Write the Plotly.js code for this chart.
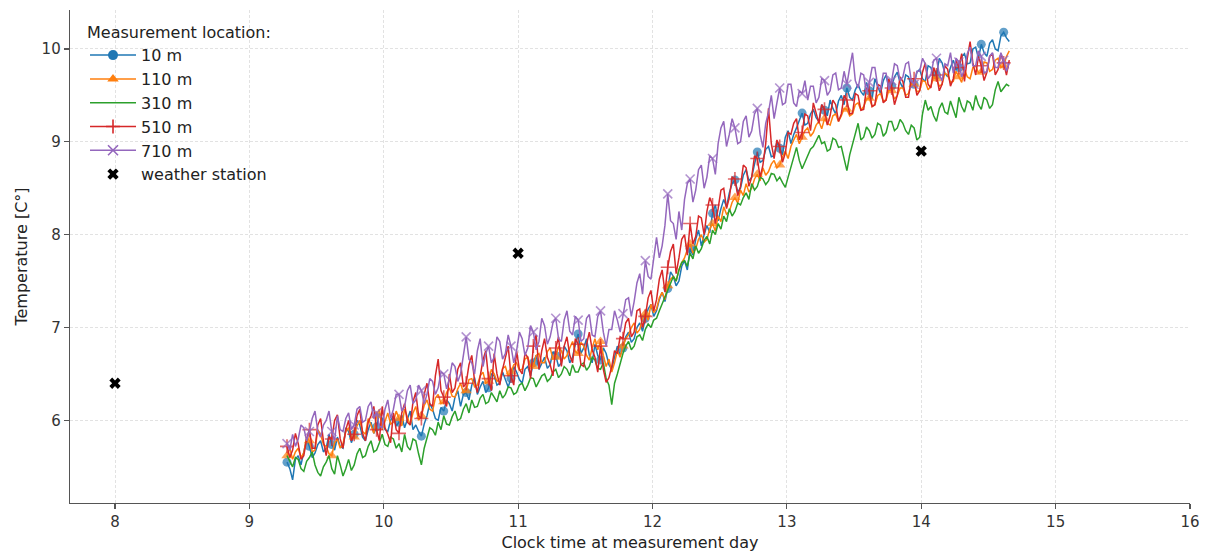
<!DOCTYPE html>
<html>
<head>
<meta charset="utf-8">
<script src="https://cdn.plot.ly/plotly-3.0.1.min.js"></script>
<style>
html,body{margin:0;padding:0;background:#fff;}
#chart{width:1209px;height:555px;}
</style>
</head>
<body>
<div id="chart"></div>
<script>
// Sampling grid of the sensor series (clock time, hours)
const timeStart = 9.28;
const timeStepH = 1 / 48;

// 10 m
const loc10 = [
  5.55,5.48, 5.36,5.58, 5.62,5.52, 5.66,5.80, 5.72,5.60, 5.65,5.74, 5.78,5.66, 5.70,5.85, 5.74,5.68, 5.82,5.72,
  5.70,5.92, 5.88,5.76, 5.85,6.00, 5.95,5.82, 5.78,5.90, 5.98,5.86, 5.93,6.08, 6.02,5.90, 5.88,6.00, 6.05,5.94,
  5.98,6.06, 5.92,6.02, 6.10,5.90, 5.95,5.88, 5.83,5.96, 6.05,6.18, 6.12,6.02, 6.00,6.14, 6.10,6.22, 6.18,6.10,
  6.25,6.32, 6.15,6.28, 6.30,6.22, 6.38,6.46, 6.28,6.36, 6.42,6.30, 6.35,6.50, 6.48,6.38, 6.40,6.52, 6.45,6.36,
  6.45,6.58, 6.52,6.44, 6.40,6.55, 6.58,6.48, 6.62,6.70, 6.55,6.62, 6.68,6.56, 6.60,6.74, 6.70,6.58, 6.62,6.80,
  6.75,6.62, 6.68,6.82, 6.93,6.72, 6.78,6.88, 6.70,6.62, 6.82,6.70, 6.65,6.78, 6.72,6.60, 6.55,6.68, 6.80,6.70,
  6.78,6.90, 6.95,6.84, 6.88,7.00, 7.05,6.96, 7.10,7.20, 7.25,7.12, 7.18,7.30, 7.38,7.28, 7.42,7.60, 7.55,7.45,
  7.50,7.66, 7.72,7.62, 7.85,7.78, 7.95,8.05, 7.88,8.00, 8.10,8.02, 8.23,8.32, 8.15,8.28, 8.38,8.30, 8.45,8.55,
  8.59,8.46, 8.50,8.64, 8.70,8.58, 8.62,8.76, 8.89,8.78, 8.80,8.92, 8.95,8.84, 8.85,9.00, 8.93,8.86, 9.05,9.12,
  8.98,9.08, 9.15,9.24, 9.31,9.18, 9.20,9.30, 9.35,9.26, 9.22,9.40, 9.34,9.28, 9.45,9.36, 9.30,9.44, 9.50,9.40,
  9.58,9.48, 9.45,9.56, 9.62,9.54, 9.50,9.64, 9.55,9.46, 9.68,9.60, 9.52,9.66, 9.72,9.58, 9.60,9.70, 9.75,9.64,
  9.58,9.72, 9.70,9.60, 9.62,9.75, 9.78,9.68, 9.65,9.82, 9.80,9.70, 9.72,9.90, 9.85,9.74, 9.70,9.80, 9.88,9.78,
  9.80,9.92, 9.95,9.84, 9.85,10.00, 10.02,9.90, 10.05,9.96, 9.92,10.06, 10.10,10.00, 9.98,10.14, 10.18,10.12, 10.08
];
// 110 m
const loc110 = [
  5.62,5.70, 5.58,5.66, 5.70,5.60, 5.65,5.82, 5.78,5.66, 5.68,5.90, 5.85,5.74, 5.72,5.64, 5.62,5.76, 5.80,5.70,
  5.75,5.88, 5.92,5.80, 5.82,5.94, 6.00,5.88, 5.85,6.02, 5.95,5.86, 6.05,6.12, 5.90,5.98, 6.08,5.96, 5.98,6.10,
  6.02,5.94, 6.12,6.04, 5.95,6.08, 6.15,6.00, 6.05,6.16, 6.22,6.12, 6.10,6.24, 6.28,6.18, 6.20,6.30, 6.35,6.26,
  6.25,6.34, 6.40,6.30, 6.32,6.44, 6.45,6.36, 6.38,6.48, 6.52,6.40, 6.42,6.55, 6.50,6.42, 6.45,6.56, 6.58,6.48,
  6.52,6.60, 6.62,6.54, 6.55,6.66, 6.68,6.58, 6.58,6.70, 6.72,6.62, 6.62,6.74, 6.78,6.66, 6.68,6.80, 6.75,6.66,
  6.70,6.78, 6.85,6.74, 6.72,6.84, 6.80,6.70, 6.65,6.78, 6.88,6.76, 6.85,6.70, 6.58,6.66, 6.52,6.62, 6.75,6.68,
  6.80,6.88, 6.92,7.00, 7.05,6.94, 6.98,7.10, 7.15,7.08, 7.25,7.16, 7.20,7.32, 7.38,7.30, 7.45,7.52, 7.55,7.50,
  7.62,7.70, 7.75,7.84, 7.90,7.80, 7.85,7.95, 8.00,7.92, 7.95,8.06, 8.12,8.04, 8.20,8.14, 8.30,8.22, 8.25,8.35,
  8.40,8.34, 8.48,8.42, 8.55,8.46, 8.50,8.60, 8.65,8.58, 8.72,8.64, 8.68,8.76, 8.80,8.72, 8.75,8.84, 8.90,8.82,
  8.95,9.02, 9.08,8.98, 9.05,9.12, 9.15,9.06, 9.10,9.18, 9.22,9.14, 9.25,9.20, 9.18,9.28, 9.30,9.22, 9.28,9.36,
  9.35,9.28, 9.30,9.40, 9.42,9.34, 9.38,9.46, 9.47,9.38, 9.40,9.50, 9.52,9.44, 9.45,9.56, 9.55,9.46, 9.50,9.58,
  9.58,9.50, 9.52,9.62, 9.62,9.54, 9.55,9.66, 9.65,9.56, 9.60,9.70, 9.68,9.60, 9.62,9.74, 9.72,9.64, 9.65,9.76,
  9.70,9.64, 9.78,9.70, 9.68,9.80, 9.82,9.74, 9.75,9.86, 9.85,9.76, 9.78,9.88, 9.90,9.80, 9.82,9.92, 9.98
];
// 310 m
const loc310 = [
  5.62,5.55, 5.50,5.60, 5.58,5.48, 5.45,5.56, 5.60,5.66, 5.52,5.44, 5.40,5.50, 5.55,5.62, 5.48,5.42, 5.62,5.52,
  5.40,5.48, 5.58,5.46, 5.52,5.64, 5.70,5.60, 5.62,5.72, 5.78,5.66, 5.68,5.76, 5.85,5.74, 5.72,5.82, 5.80,5.70,
  5.75,5.66, 5.85,5.72, 5.68,5.80, 5.78,5.64, 5.52,5.70, 5.82,5.92, 5.90,5.84, 5.98,5.90, 6.05,5.96, 5.95,6.04,
  6.10,6.00, 6.02,6.12, 6.18,6.08, 6.22,6.14, 6.15,6.24, 6.28,6.18, 6.20,6.30, 6.25,6.20, 6.32,6.24, 6.28,6.36,
  6.35,6.28, 6.30,6.38, 6.40,6.32, 6.38,6.46, 6.45,6.36, 6.42,6.48, 6.50,6.42, 6.45,6.52, 6.55,6.46, 6.50,6.58,
  6.55,6.48, 6.60,6.52, 6.52,6.60, 6.62,6.54, 6.58,6.68, 6.65,6.56, 6.55,6.62, 6.45,6.38, 6.17,6.40, 6.50,6.62,
  6.72,6.80, 6.85,6.76, 6.80,6.90, 6.92,6.86, 6.98,7.04, 7.00,7.08, 7.10,7.18, 7.25,7.34, 7.40,7.48, 7.55,7.50,
  7.62,7.70, 7.72,7.66, 7.80,7.74, 7.88,7.80, 7.85,7.94, 7.98,7.90, 8.05,8.00, 8.12,8.06, 8.20,8.14, 8.28,8.20,
  8.25,8.34, 8.32,8.40, 8.45,8.38, 8.55,8.48, 8.52,8.62, 8.60,8.54, 8.58,8.66, 8.65,8.58, 8.62,8.56, 8.51,8.62,
  8.72,8.84, 8.94,8.80, 8.71,8.78, 8.85,8.92, 8.95,9.02, 9.07,8.98, 9.00,8.90, 8.92,9.04, 9.02,8.94, 8.95,8.82,
  8.69,8.86, 8.98,9.10, 9.20,9.02, 9.05,9.16, 9.12,9.04, 9.08,9.20, 9.18,9.06, 9.10,9.22, 9.22,9.12, 9.15,9.24,
  9.20,9.12, 9.08,9.18, 9.15,9.02, 9.05,9.30, 9.45,9.34, 9.38,9.28, 9.22,9.36, 9.42,9.32, 9.30,9.44, 9.35,9.26,
  9.48,9.38, 9.32,9.44, 9.42,9.34, 9.50,9.40, 9.35,9.48, 9.45,9.36, 9.40,9.56, 9.65,9.54, 9.58,9.62, 9.60
];
// 510 m
const loc510 = [
  5.72,5.60, 5.68,5.86, 5.75,5.58, 5.62,5.80, 5.90,5.70, 5.70,5.95, 6.02,5.78, 5.62,5.82, 5.80,6.00, 6.06,5.80,
  5.70,5.90, 6.00,5.78, 5.85,6.05, 6.12,5.86, 5.78,5.98, 6.05,6.15, 5.90,5.78, 6.15,5.92, 5.85,5.76, 6.08,5.90,
  5.86,6.08, 6.18,5.98, 5.95,6.20, 6.30,6.05, 6.02,6.28, 6.40,6.18, 6.15,6.48, 6.66,6.32, 6.25,6.15, 6.50,6.30,
  6.35,6.55, 6.62,6.36, 6.40,6.60, 6.70,6.42, 6.30,6.48, 6.65,6.75, 6.45,6.32, 6.72,6.50, 6.38,6.55, 6.68,6.80,
  6.48,6.38, 6.75,6.55, 6.50,6.72, 6.68,6.45, 6.80,6.92, 6.55,6.75, 6.88,6.68, 6.60,6.48, 6.78,6.90, 6.58,6.80,
  6.90,6.70, 6.62,6.88, 6.82,6.60, 6.58,6.82, 6.95,6.76, 6.68,6.52, 6.80,6.55, 6.41,6.46, 6.58,6.75, 6.72,6.90,
  6.88,7.05, 7.10,6.90, 6.95,7.18, 7.20,7.00, 7.12,7.32, 7.40,7.18, 7.30,7.52, 7.62,7.38, 7.65,7.82, 7.90,7.58,
  7.75,7.95, 8.00,7.78, 8.12,7.90, 7.98,8.20, 8.18,8.00, 8.25,8.40, 8.32,8.12, 8.28,8.48, 8.50,8.28, 8.40,8.62,
  8.60,8.42, 8.52,8.75, 8.72,8.52, 8.62,8.85, 8.82,8.62, 8.75,8.98, 9.36,8.98, 8.82,9.02, 8.95,8.78, 8.88,9.10,
  9.08,9.20, 9.25,9.02, 9.10,9.30, 9.28,9.12, 9.42,9.30, 9.20,9.40, 9.35,9.18, 9.28,9.45, 9.40,9.22, 9.30,9.50,
  9.45,9.30, 9.31,9.52, 9.50,9.34, 9.35,9.58, 9.55,9.38, 9.40,9.62, 9.60,9.42, 9.45,9.68, 9.58,9.40, 9.50,9.70,
  9.65,9.48, 9.48,9.68, 9.68,9.50, 9.55,9.75, 9.85,9.62, 9.58,9.80, 9.72,9.55, 9.62,9.82, 9.78,9.60, 9.68,9.88,
  9.80,9.95, 9.65,9.90, 10.08,9.85, 9.72,9.92, 9.82,9.66, 9.75,9.92, 9.95,9.72, 9.78,9.95, 9.85,9.72, 9.88
];
// 710 m
const loc710 = [
  5.75,5.68, 5.85,5.72, 5.80,5.95, 5.92,5.78, 5.88,6.02, 6.10,5.88, 5.82,5.95, 6.00,6.10, 5.88,5.78, 6.05,5.90,
  5.88,6.02, 6.08,5.90, 5.95,6.12, 6.15,5.98, 6.00,6.15, 6.20,6.02, 6.08,5.94, 5.92,6.12, 6.22,6.02, 6.12,6.28,
  6.28,6.10, 6.15,6.32, 6.38,6.18, 6.22,6.38, 6.32,6.18, 6.28,6.45, 6.42,6.28, 6.35,6.52, 6.50,6.34, 6.45,6.62,
  6.58,6.42, 6.50,6.70, 6.90,6.66, 6.62,6.50, 6.75,6.88, 6.58,6.72, 6.80,6.62, 6.68,6.90, 6.85,6.66, 6.72,6.92,
  6.80,6.62, 6.75,6.95, 6.88,6.70, 6.78,7.02, 6.95,6.76, 6.85,7.10, 7.02,6.82, 6.90,7.05, 7.10,6.88, 6.85,7.08,
  7.18,6.96, 6.92,7.12, 7.08,6.85, 6.88,7.10, 7.14,6.92, 6.90,7.12, 7.18,6.95, 6.80,6.98, 6.98,7.18, 7.08,6.95,
  7.15,7.30, 7.32,7.12, 7.28,7.48, 7.58,7.36, 7.72,7.55, 7.52,7.78, 7.97,7.75, 7.88,8.10, 8.44,8.15, 8.12,7.95,
  8.25,8.05, 8.38,8.55, 8.60,8.35, 8.48,8.70, 8.75,8.50, 8.62,8.85, 8.82,8.65, 8.98,9.15, 9.22,8.95, 9.08,9.25,
  9.15,8.98, 9.00,9.22, 9.28,9.05, 9.12,9.30, 9.36,9.08, 8.94,9.20, 9.32,9.50, 9.25,9.42, 9.58,9.40, 9.42,9.62,
  9.62,9.42, 9.38,9.55, 9.52,9.66, 9.45,9.60, 9.60,9.42, 9.48,9.68, 9.66,9.50, 9.55,9.72, 9.74,9.56, 9.58,9.76,
  9.62,9.80, 9.96,9.66, 9.58,9.74, 9.72,9.52, 9.64,9.80, 9.80,9.60, 9.56,9.74, 9.74,9.56, 9.66,9.84, 9.82,9.66,
  9.70,9.84, 9.86,9.66, 9.62,9.76, 9.76,9.90, 9.84,9.68, 9.72,9.88, 9.90,9.72, 9.66,9.84, 9.82,9.96, 9.74,9.90,
  9.86,9.70, 9.78,9.95, 10.02,9.82, 9.82,9.98, 9.92,9.74, 9.76,9.92, 9.96,9.80, 9.80,9.96, 9.88,9.76, 9.85
];
// weather station
const stationTime = [8, 11, 14];
const stationTemp = [6.4, 7.8, 8.9];

const seriesNames = ['10 m', '110 m', '310 m', '510 m', '710 m'];
const stationName = 'weather station';
const xTicks = [8, 9, 10, 11, 12, 13, 14, 15, 16];
const yTicks = [6, 7, 8, 9, 10];

const time = loc10.map((_, i) => timeStart + i * timeStepH);
const markEvery = 8;

const colors = ['#1f77b4', '#ff7f0e', '#2ca02c', '#d62728', '#9467bd'];
const data = [loc10, loc110, loc310, loc510, loc710];
const symbols = ['circle', 'triangle-up', null, 'cross-thin', 'x-thin'];
const msize = [9, 10, 0, 10, 9];

function markerStyle(k, size) {
  const thin = symbols[k].indexOf('thin') >= 0;
  return {
    symbol: symbols[k],
    size: size,
    color: colors[k],
    line: {color: colors[k], width: thin ? 1.6 : 0}
  };
}

const traces = [];
data.forEach((vals, k) => {
  const t = {
    type: 'scatter',
    x: time,
    y: vals,
    name: seriesNames[k],
    legendgroup: seriesNames[k],
    showlegend: false,
    mode: symbols[k] ? 'lines+markers' : 'lines',
    line: {color: colors[k], width: 1.5}
  };
  if (symbols[k]) {
    t.marker = markerStyle(k, time.map((_, i) => (i % markEvery === 0 ? msize[k] : 0)));
  }
  traces.push(t);
});
traces.push({
  type: 'scatter',
  x: stationTime,
  y: stationTemp,
  name: stationName,
  legendgroup: stationName,
  showlegend: false,
  mode: 'markers',
  marker: {symbol: 'x', size: 10, color: '#000', line: {width: 0}}
});
// legend entries (no data of their own)
data.forEach((vals, k) => {
  const t = {
    type: 'scatter',
    x: [null],
    y: [null],
    name: seriesNames[k],
    legendgroup: seriesNames[k],
    showlegend: true,
    mode: symbols[k] ? 'lines+markers' : 'lines',
    line: {color: colors[k], width: 1.5}
  };
  if (symbols[k]) t.marker = markerStyle(k, 10);
  traces.push(t);
});
traces.push({
  type: 'scatter',
  x: [null],
  y: [null],
  name: stationName,
  legendgroup: stationName,
  showlegend: true,
  mode: 'markers',
  marker: {symbol: 'x', size: 10, color: '#000', line: {width: 0}}
});

const axisCommon = {
  showline: true,
  linecolor: '#555',
  linewidth: 1.3,
  ticks: 'outside',
  ticklen: 5,
  tickwidth: 1.2,
  tickcolor: '#555',
  showgrid: true,
  gridcolor: '#e2e2e2',
  griddash: '3px,2px',
  gridwidth: 1,
  zeroline: false,
  mirror: false,
  tickfont: {family: 'DejaVu Sans', size: 15, color: '#333'}
};

const layout = {
  width: 1209,
  height: 555,
  paper_bgcolor: '#fff',
  plot_bgcolor: '#fff',
  margin: {l: 70, r: 19, t: 10, b: 52},
  font: {family: 'DejaVu Sans', color: '#222'},
  showlegend: true,
  xaxis: Object.assign({}, axisCommon, {
    range: [7.665, 16],
    tickmode: 'array',
    tickvals: xTicks,
    ticktext: xTicks.map(String),
    title: {text: 'Clock time at measurement day', font: {family: 'DejaVu Sans', size: 16, color: '#222'}, standoff: 6}
  }),
  yaxis: Object.assign({}, axisCommon, {
    range: [5.11, 10.42],
    tickmode: 'array',
    tickvals: yTicks,
    ticktext: yTicks.map(String),
    title: {text: 'Temperature [C°]', font: {family: 'DejaVu Sans', size: 16, color: '#222'}, standoff: 10}
  }),
  legend: {
    x: 0.0134,
    y: 0.985,
    xanchor: 'left',
    yanchor: 'top',
    bgcolor: 'rgba(255,255,255,0)',
    borderwidth: 0,
    font: {family: 'DejaVu Sans', size: 16, color: '#222'},
    title: {text: 'Measurement location:', side: 'top', font: {family: 'DejaVu Sans', size: 16, color: '#222'}},
    itemsizing: 'trace',
    itemwidth: 46,
    tracegroupgap: 0
  }
};

Plotly.newPlot('chart', traces, layout, {displayModeBar: false, staticPlot: true});
</script>
</body>
</html>
